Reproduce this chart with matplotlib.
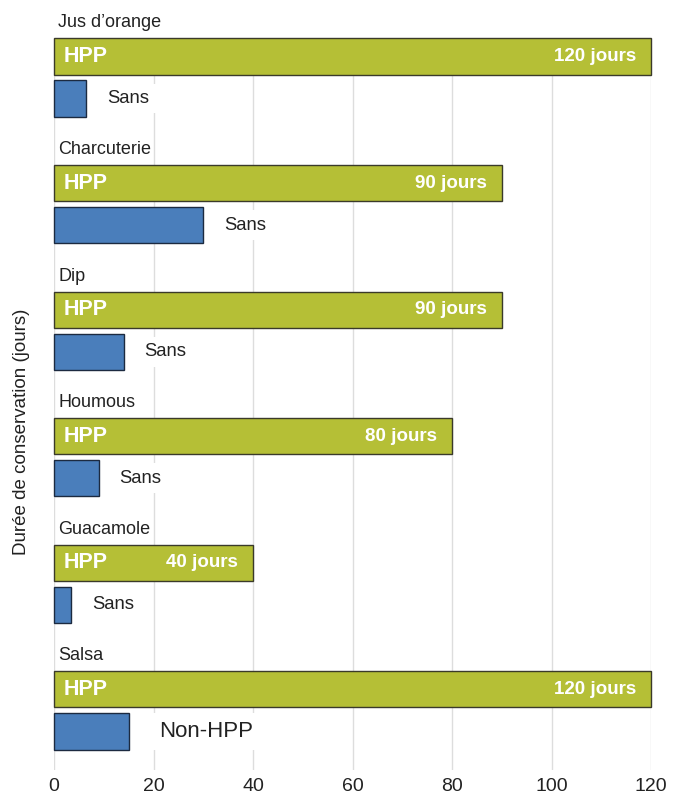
import numpy as np
from matplotlib import pyplot as plt

plt.rcParams['font.family'] = ['Liberation Sans', 'DejaVu Sans']

# Data
produits = ['Jus d\u2019orange', 'Charcuterie', 'Dip', 'Houmous', 'Guacamole', 'Salsa']
jours_hpp = [120, 90, 90, 80, 40, 120]
jours_sans = [6.5, 30, 14, 9, 3.5, 15]
labels_sans = ['Sans', 'Sans', 'Sans', 'Sans', 'Sans', 'Non-HPP']

green = '#B5BF36'
blue = '#4A7EBB'

fig = plt.figure(figsize=(6.81, 7.96), dpi=100)
ax = fig.add_axes([0.0793, 0.0327, 0.8767, 0.9183])

y = np.arange(len(produits))
y_sans = y + 0.332
h = 0.285

ax.barh(y, jours_hpp, height=h, color=green, edgecolor='#3a3a2a', linewidth=1, zorder=3, clip_on=False)
ax.barh(y_sans, jours_sans, height=h, color=blue, edgecolor='#1c2a40', linewidth=1, zorder=3, clip_on=False)

for i in range(len(produits)):
    # category name above HPP bar
    ax.annotate(produits[i], (0, y[i] - 0.265), xytext=(3, 0), textcoords='offset points',
                ha='left', va='center', fontsize=13, color='#222222', annotation_clip=False,
                bbox=dict(boxstyle='square,pad=0.1', fc='white', ec='none'), zorder=4)
    ax.annotate('HPP', (0, y[i]), xytext=(7, 0), textcoords='offset points',
                ha='left', va='center', fontsize=15.5, fontweight='bold', color='white', zorder=5)
    ax.annotate(f'{jours_hpp[i]} jours', (jours_hpp[i], y[i]), xytext=(-11, 0),
                textcoords='offset points', ha='right', va='center', fontsize=13.5,
                fontweight='bold', color='white', zorder=5)
    big = labels_sans[i] != 'Sans'
    ax.annotate(labels_sans[i], (jours_sans[i], y_sans[i]), xytext=(22 if big else 15, 0),
                textcoords='offset points', ha='left', va='center',
                fontsize=16 if big else 13.3, color='#222222',
                bbox=dict(boxstyle='square,pad=0.35', fc='white', ec='none'), zorder=4)

ax.set_xlim(0, 120)
ax.set_ylim(5.636, -0.138)
ax.set_xticks(np.arange(0, 121, 20))
ax.set_yticks([])
ax.tick_params(axis='x', length=0, labelsize=14, pad=6, colors='#222222')
ax.grid(axis='x', color='#dddddd', linewidth=1, zorder=0)
ax.set_axisbelow(True)
for s in ax.spines.values():
    s.set_visible(False)

fig.text(0.032, 0.457, 'Durée de conservation (jours)', rotation=90, ha='center', va='center',
         fontsize=13.5, color='#222222')

plt.savefig('out.png', dpi=100)
plt.close()
